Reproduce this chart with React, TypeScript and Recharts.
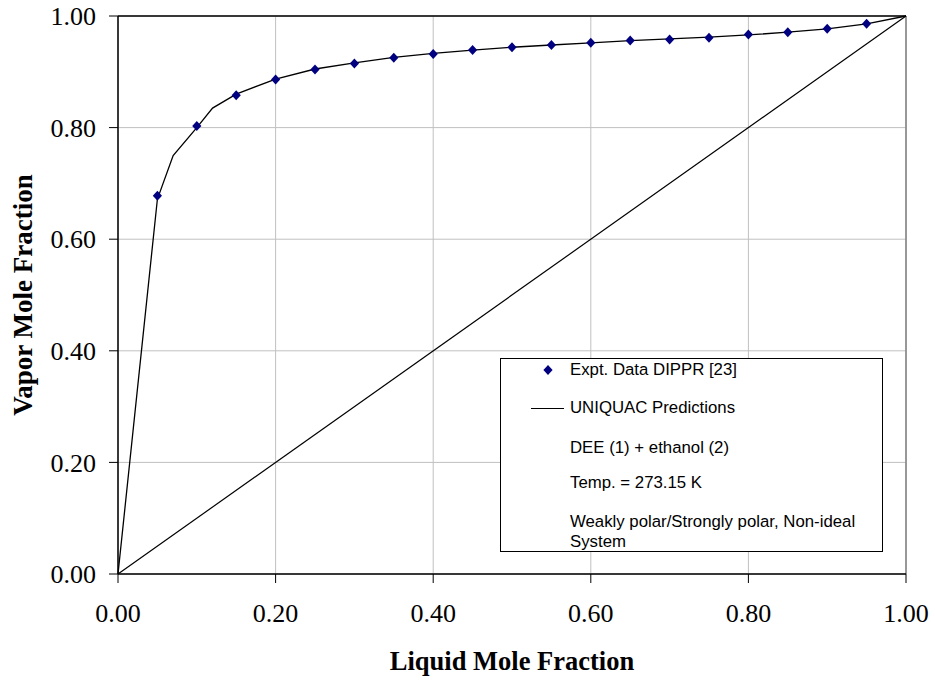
import { ComposedChart, Line, Scatter, XAxis, YAxis, CartesianGrid, Legend, ReferenceLine } from "recharts";

const exptX = [0.05, 0.1, 0.15, 0.2, 0.25, 0.3, 0.35, 0.4, 0.45, 0.5, 0.55, 0.6, 0.65, 0.7, 0.75, 0.8, 0.85, 0.9, 0.95];
const exptY = [0.678, 0.803, 0.858, 0.886, 0.904, 0.915, 0.925, 0.932, 0.939, 0.944, 0.948, 0.952, 0.956, 0.958, 0.961, 0.967, 0.971, 0.977, 0.986];

const uniquacX = [0, 0.05, 0.07, 0.1, 0.12, 0.15, 0.2, 0.25, 0.3, 0.35, 0.4, 0.45, 0.5, 0.55, 0.6, 0.65, 0.7, 0.75, 0.8, 0.85, 0.9, 0.95, 1.0];
const uniquacY = [0, 0.672, 0.75, 0.8, 0.835, 0.86, 0.887, 0.905, 0.916, 0.926, 0.933, 0.939, 0.944, 0.948, 0.952, 0.956, 0.959, 0.962, 0.966, 0.971, 0.977, 0.986, 1.0];

const diagX = [0, 1];
const diagY = [0, 1];

const ticks = [0, 0.2, 0.4, 0.6, 0.8, 1.0];

const legendLines = [
  "DEE (1) + ethanol (2)",
  "Temp. = 273.15 K",
];

const expt = exptX.map((x, i) => ({ x, y: exptY[i] }));
const uniquac = uniquacX.map((x, i) => ({ x, y: uniquacY[i] }));
const diag = diagX.map((x, i) => ({ x, y: diagY[i] }));

const SERIF = "'Liberation Serif', 'Times New Roman', serif";
const SANS = "'Liberation Sans', Arial, sans-serif";

const Diamond = (props: any) => {
  const { cx, cy } = props;
  return <polygon points={`${cx},${cy - 5} ${cx + 4.6},${cy} ${cx},${cy + 5} ${cx - 4.6},${cy}`} fill="#000080" />;
};

const row = (top: number): React.CSSProperties => ({
  position: "absolute",
  left: 69,
  top,
  lineHeight: "20px",
  whiteSpace: "nowrap",
});

function LegendBox() {
  return (
    <div
      style={{
        position: "relative",
        width: 381,
        height: 192,
        border: "1px solid #000",
        background: "#fff",
        fontFamily: SANS,
        fontSize: 16.8,
        color: "#000",
      }}
    >
      <svg style={{ position: "absolute", left: 0, top: 0 }} width={70} height={70}>
        <polygon points="47,6 51.6,11 47,16 42.4,11" fill="#000080" />
        <line x1={30} x2={63} y1={49.5} y2={49.5} stroke="#000" strokeWidth={1.2} />
      </svg>
      <div style={row(1)}>Expt. Data DIPPR [23]</div>
      <div style={row(39)}>UNIQUAC Predictions</div>
      <div style={row(79)}>{legendLines[0]}</div>
      <div style={row(114)}>{legendLines[1]}</div>
      <div style={{ ...row(153), lineHeight: "20px" }}>
        Weakly polar/Strongly polar, Non-ideal
        <br />
        System
      </div>
    </div>
  );
}

export default function App() {
  return (
    <div style={{ position: "fixed", left: 0, top: 0, background: "#fff" }}>
      <ComposedChart width={935} height={681} margin={{ top: 16, right: 29, left: 0, bottom: 0 }}>
        <CartesianGrid stroke="#c0c0c0" strokeWidth={1} />
        <XAxis
          type="number"
          dataKey="x"
          domain={[0, 1]}
          ticks={ticks}
          tickFormatter={(v: number) => v.toFixed(2)}
          height={107}
          tickSize={9}
          tickMargin={21}
          axisLine={{ stroke: "#000", strokeWidth: 1.5 }}
          tickLine={{ stroke: "#000" }}
          tick={{ fontSize: 26, fontFamily: SERIF, fill: "#000" }}
          label={{
            content: () => (
              <text x={512} y={670} textAnchor="middle" fontFamily={SERIF} fontSize={26.5} fontWeight="bold" fill="#000">
                Liquid Mole Fraction
              </text>
            ),
          }}
        />
        <YAxis
          type="number"
          dataKey="y"
          domain={[0, 1]}
          ticks={ticks}
          tickFormatter={(v: number) => v.toFixed(2)}
          width={118}
          tickSize={9}
          tickMargin={13}
          axisLine={{ stroke: "#000", strokeWidth: 1.5 }}
          tickLine={{ stroke: "#000" }}
          tick={{ fontSize: 26, fontFamily: SERIF, fill: "#000" }}
          label={{
            content: () => (
              <text
                x={32}
                y={295}
                transform="rotate(-90, 32, 295)"
                textAnchor="middle"
                fontFamily={SERIF}
                fontSize={27}
                fontWeight="bold"
                fill="#000"
              >
                Vapor Mole Fraction
              </text>
            ),
          }}
        />
        <ReferenceLine y={1} stroke="#000" strokeWidth={1.5} />
        <ReferenceLine x={1} stroke="#808080" strokeWidth={1.5} />
        <Line data={diag} dataKey="y" stroke="#000" strokeWidth={1.2} dot={false} isAnimationActive={false} />
        <Line data={uniquac} dataKey="y" stroke="#000" strokeWidth={1.3} dot={false} isAnimationActive={false} />
        <Scatter data={expt} dataKey="y" fill="#000080" shape={Diamond} isAnimationActive={false} />
        <Legend
          layout="horizontal"
          verticalAlign="middle"
          align="center"
          wrapperStyle={{ position: "absolute", left: 500, top: 358, width: 383, height: 194 }}
          content={() => <LegendBox />}
        />
      </ComposedChart>
    </div>
  );
}
